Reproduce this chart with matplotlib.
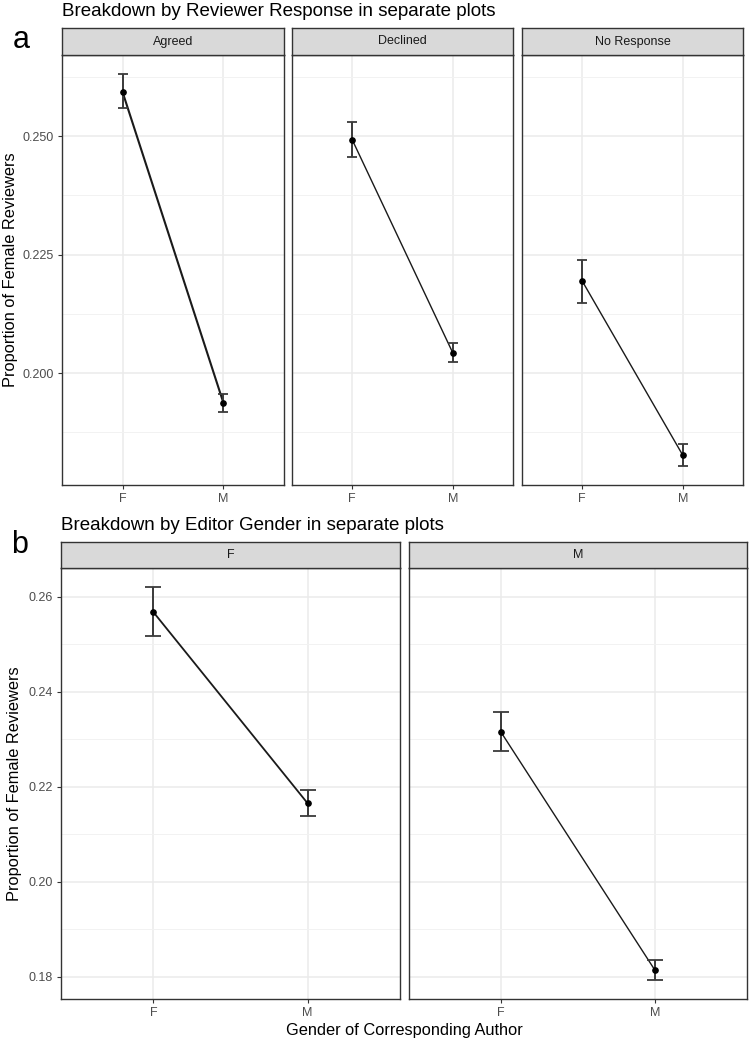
import matplotlib.pyplot as plt
import numpy as np

plt.rcParams['font.family'] = ['Liberation Sans', 'DejaVu Sans']

# panel a: reviewer response
resp_groups = ['Agreed', 'Declined', 'No Response']
resp_mean = [[0.2593, 0.1937], [0.2492, 0.2043], [0.2194, 0.1827]]
resp_lo = [[0.2559, 0.1918], [0.2456, 0.2023], [0.2148, 0.1805]]
resp_hi = [[0.2631, 0.1955], [0.2529, 0.2063], [0.2239, 0.1850]]

# panel b: editor gender
ed_groups = ['F', 'M']
ed_mean = [[0.2567, 0.2165], [0.2314, 0.1814]]
ed_lo = [[0.2517, 0.2138], [0.2274, 0.1793]]
ed_hi = [[0.2619, 0.2193], [0.2356, 0.1835]]

author = ['F', 'M']

W, H = 752, 1044
fig = plt.figure(figsize=(W / 100, H / 100), dpi=100)


def box(x0, x1, y0, y1):
    return [x0 / W, 1 - y1 / H, (x1 - x0) / W, (y1 - y0) / H]


def panel(rect, strip_rect, label, mean, lo, hi, ylim, major, minor, capsize, lw, show_y):
    ax = fig.add_axes(rect)
    xs = np.arange(len(author))
    ax.set_xlim(-0.6, 1.6)
    ax.set_ylim(*ylim)
    ax.set_yticks(major)
    ax.set_yticks(minor, minor=True)
    ax.set_xticks(xs)
    ax.set_xticklabels(author)
    ax.grid(True, which='major', color='#EBEBEB', lw=1.1, zorder=0)
    ax.grid(True, which='minor', axis='y', color='#F2F2F2', lw=0.7, zorder=0)
    ax.set_axisbelow(True)
    ax.plot(xs, mean, color='#1a1a1a', lw=lw, zorder=2)
    err = [np.array(mean) - np.array(lo), np.array(hi) - np.array(mean)]
    ax.errorbar(xs, mean, yerr=err, fmt='none', ecolor='#3a3a3a', elinewidth=1.4,
                capsize=capsize, capthick=1.3, zorder=3)
    ax.plot(xs, mean, 'o', color='black', ms=3.8, zorder=4)
    for s in ax.spines.values():
        s.set_color('#333333')
        s.set_linewidth(1.0)
    ax.tick_params(axis='both', which='major', length=3, color='#333333',
                   labelsize=9, labelcolor='#4D4D4D', pad=3)
    ax.tick_params(axis='y', which='minor', length=0)
    if not show_y:
        ax.tick_params(axis='y', which='both', left=False, labelleft=False)
    sax = fig.add_axes(strip_rect)
    sax.set_facecolor('#D9D9D9')
    sax.set_xticks([])
    sax.set_yticks([])
    for s in sax.spines.values():
        s.set_color('#333333')
        s.set_linewidth(1.0)
    sax.text(0.5, 0.5, label, ha='center', va='center', fontsize=9, color='#1A1A1A',
             transform=sax.transAxes)
    return ax


# top row
top_x = [(62, 284), (292, 513), (522, 743)]
top_major = [0.200, 0.225, 0.250]
top_minor = [0.1875, 0.2125, 0.2375, 0.2625]
for i, g in enumerate(resp_groups):
    x0, x1 = top_x[i]
    ax = panel(box(x0, x1, 55, 485), box(x0, x1, 28, 55), g,
               resp_mean[i], resp_lo[i], resp_hi[i], (0.1764, 0.2671),
               top_major, top_minor, 3.8, 1.5 if i == 0 else 1.0, i == 0)
    if i == 0:
        ax.set_yticklabels(['0.200', '0.225', '0.250'])
        ax.set_ylabel('Proportion of Female Reviewers', fontsize=11.8)
        ax.yaxis.set_label_coords(-0.200, 0.5)

# bottom row
bot_x = [(61, 400), (409, 747)]
bot_major = [0.18, 0.20, 0.22, 0.24, 0.26]
bot_minor = [0.19, 0.21, 0.23, 0.25]
for i, g in enumerate(ed_groups):
    x0, x1 = bot_x[i]
    ax = panel(box(x0, x1, 568, 999), box(x0, x1, 542, 568), g,
               ed_mean[i], ed_lo[i], ed_hi[i], (0.1753, 0.2660),
               bot_major, bot_minor, 5.5, 1.3 if i == 0 else 1.0, i == 0)
    if i == 0:
        ax.set_yticklabels(['0.18', '0.20', '0.22', '0.24', '0.26'])
        ax.set_ylabel('Proportion of Female Reviewers', fontsize=11.8)
        ax.yaxis.set_label_coords(-0.115, 0.5)

fig.text(62 / W, 1 - 12 / H, 'Breakdown by Reviewer Response in separate plots',
         fontsize=13.5, ha='left', va='center')
fig.text(61 / W, 1 - 526 / H, 'Breakdown by Editor Gender in separate plots',
         fontsize=13.5, ha='left', va='center')
fig.text(13 / W, 1 - 40 / H, 'a', fontsize=22, ha='left', va='center')
fig.text(11 / W, 1 - 545 / H, 'b', fontsize=22, ha='left', va='center')
fig.text(404 / W, 1 - 1031 / H, 'Gender of Corresponding Author', fontsize=11.8,
         ha='center', va='center')

fig.savefig('out.png', dpi=100)
